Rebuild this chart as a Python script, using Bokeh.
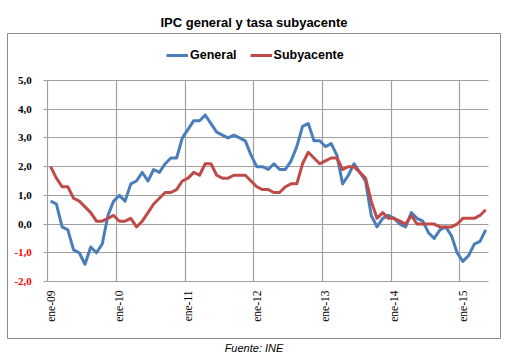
import math
from bokeh.plotting import figure
from bokeh.models import (FixedTicker, Legend, LegendItem, Title, LabelSet, ColumnDataSource, Grid)
from bokeh.embed import file_html
from bokeh.resources import INLINE

# ---------------- data ----------------
year_labels = ["ene-09", "ene-10", "ene-11", "ene-12", "ene-13", "ene-14", "ene-15"]
general = [
    0.8, 0.7, -0.1, -0.2, -0.9, -1.0, -1.4, -0.8, -1.0, -0.7, 0.3, 0.8,   # 2009
    1.0, 0.8, 1.4, 1.5, 1.8, 1.5, 1.9, 1.8, 2.1, 2.3, 2.3, 3.0,           # 2010
    3.3, 3.6, 3.6, 3.8, 3.5, 3.2, 3.1, 3.0, 3.1, 3.0, 2.9, 2.4,           # 2011
    2.0, 2.0, 1.9, 2.1, 1.9, 1.9, 2.2, 2.7, 3.4, 3.5, 2.9, 2.9,           # 2012
    2.7, 2.8, 2.4, 1.4, 1.7, 2.1, 1.8, 1.5, 0.3, -0.1, 0.2, 0.3,          # 2013
    0.2, 0.0, -0.1, 0.4, 0.2, 0.1, -0.3, -0.5, -0.2, -0.1, -0.4, -1.0,    # 2014
    -1.3, -1.1, -0.7, -0.6, -0.2,                                         # 2015
]
subyacente = [
    2.0, 1.6, 1.3, 1.3, 0.9, 0.8, 0.6, 0.4, 0.1, 0.1, 0.2, 0.3,           # 2009
    0.1, 0.1, 0.2, -0.1, 0.1, 0.4, 0.7, 0.9, 1.1, 1.1, 1.2, 1.5,          # 2010
    1.6, 1.8, 1.7, 2.1, 2.1, 1.7, 1.6, 1.6, 1.7, 1.7, 1.7, 1.5,           # 2011
    1.3, 1.2, 1.2, 1.1, 1.1, 1.3, 1.4, 1.4, 2.1, 2.5, 2.3, 2.1,           # 2012
    2.2, 2.3, 2.3, 1.9, 2.0, 2.0, 1.8, 1.6, 0.8, 0.2, 0.4, 0.2,           # 2013
    0.2, 0.1, 0.0, 0.3, 0.0, 0.0, 0.0, 0.0, -0.1, -0.1, -0.1, 0.0,        # 2014
    0.2, 0.2, 0.2, 0.3, 0.5,                                              # 2015
]
y_ticks = [-2, -1, 0, 1, 2, 3, 4, 5]
y_tick_labels = ["-2,0", "-1,0", "0,0", "1,0", "2,0", "3,0", "4,0", "5,0"]
y_tick_colors = ["#FF0000", "#FF0000", "black", "black", "black", "black", "black", "black"]

n = len(general)
x = list(range(n))
year_ticks = [12 * i for i in range(len(year_labels))]
grid_ticks = [t - 0.5 for t in year_ticks]

FONT = "Liberation Sans"
GRID = "#A0A0A0"

# plot area spans categories -0.5 .. n-0.5 and values -2 .. 5; the frame is the
# outer chart box, so the ranges reach a little beyond the plot area.
X0, X1 = -0.5, n - 0.5
Y0, Y1 = -2, 5
PX_X = 5.725     # pixels per category
PX_Y = 28.714    # pixels per unit
p = figure(width=505, height=362, output_backend="svg", toolbar_location=None,
           x_range=(X0 - 40.3 / PX_X, X1 + 11.9 / PX_X),
           y_range=(Y0 - 57 / PX_Y, Y1 + 47 / PX_Y),
           min_border_left=7, min_border_right=5, min_border_top=33, min_border_bottom=24)
p.outline_line_color = "#8C8C8C"
p.outline_line_width = 1
p.background_fill_color = "white"
p.border_fill_color = "white"
p.xaxis.visible = False
p.yaxis.visible = False

# grid restricted to the plot area
tick_ext = 4 / PX_X
if "cross_bounds" in Grid.properties():
    p.xgrid.ticker = FixedTicker(ticks=grid_ticks)
    p.xgrid.cross_bounds = (Y0, Y1)
    p.ygrid.ticker = FixedTicker(ticks=y_ticks)
    p.ygrid.cross_bounds = (X0 - tick_ext, X1)
    for g in (p.xgrid, p.ygrid):
        g.grid_line_color = GRID
        g.grid_line_width = 1.2
else:
    p.xgrid.visible = False
    p.ygrid.visible = False
    p.segment(x0=grid_ticks, x1=grid_ticks, y0=[Y0] * len(grid_ticks), y1=[Y1] * len(grid_ticks),
              line_color=GRID, line_width=1.2)
    p.segment(x0=[X0 - tick_ext] * len(y_ticks), x1=[X1] * len(y_ticks), y0=y_ticks, y1=y_ticks,
              line_color=GRID, line_width=1.2)

# tick labels
ysrc = ColumnDataSource(dict(x=[X0 - 16 / PX_X] * len(y_ticks), y=y_ticks,
                             text=y_tick_labels, color=y_tick_colors))
p.add_layout(LabelSet(x="x", y="y", text="text", source=ysrc, text_color="color",
                      text_align="right", text_baseline="middle", text_font=FONT,
                      text_font_size="11px", text_font_style="bold"))
xsrc = ColumnDataSource(dict(x=year_ticks, y=[Y0] * len(year_ticks), text=year_labels))
p.add_layout(LabelSet(x="x", y="y", text="text", source=xsrc, angle=math.pi / 2,
                      y_offset=-9, text_align="right", text_baseline="middle",
                      text_font=FONT, text_font_size="11.5px", text_color="black"))

# series
r_gen = p.line(x, general, line_color="#4A7EBB", line_width=3, line_join="round")
r_sub = p.line(x, subyacente, line_color="#BE4B48", line_width=3, line_join="round")

legend = Legend(items=[LegendItem(label="General", renderers=[r_gen]),
                       LegendItem(label="Subyacente", renderers=[r_sub])],
                orientation="horizontal", location=(159, 276),
                glyph_width=22, glyph_height=14, label_height=14, label_standoff=2,
                spacing=13, padding=0, margin=0,
                border_line_color=None, background_fill_alpha=0,
                label_text_font=FONT, label_text_font_size="12.5px",
                label_text_font_style="bold", label_text_color="black")
p.add_layout(legend, "center")

p.add_layout(Title(text="IPC general y tasa subyacente", align="center", standoff=8,
                   text_font=FONT, text_font_size="13px", text_font_style="bold",
                   text_color="black"), "above")
p.add_layout(Title(text="Fuente: INE", align="center", standoff=3,
                   text_font=FONT, text_font_size="11px", text_font_style="italic",
                   text_color="black"), "below")

open("out.html", "w").write(file_html(p, INLINE))
